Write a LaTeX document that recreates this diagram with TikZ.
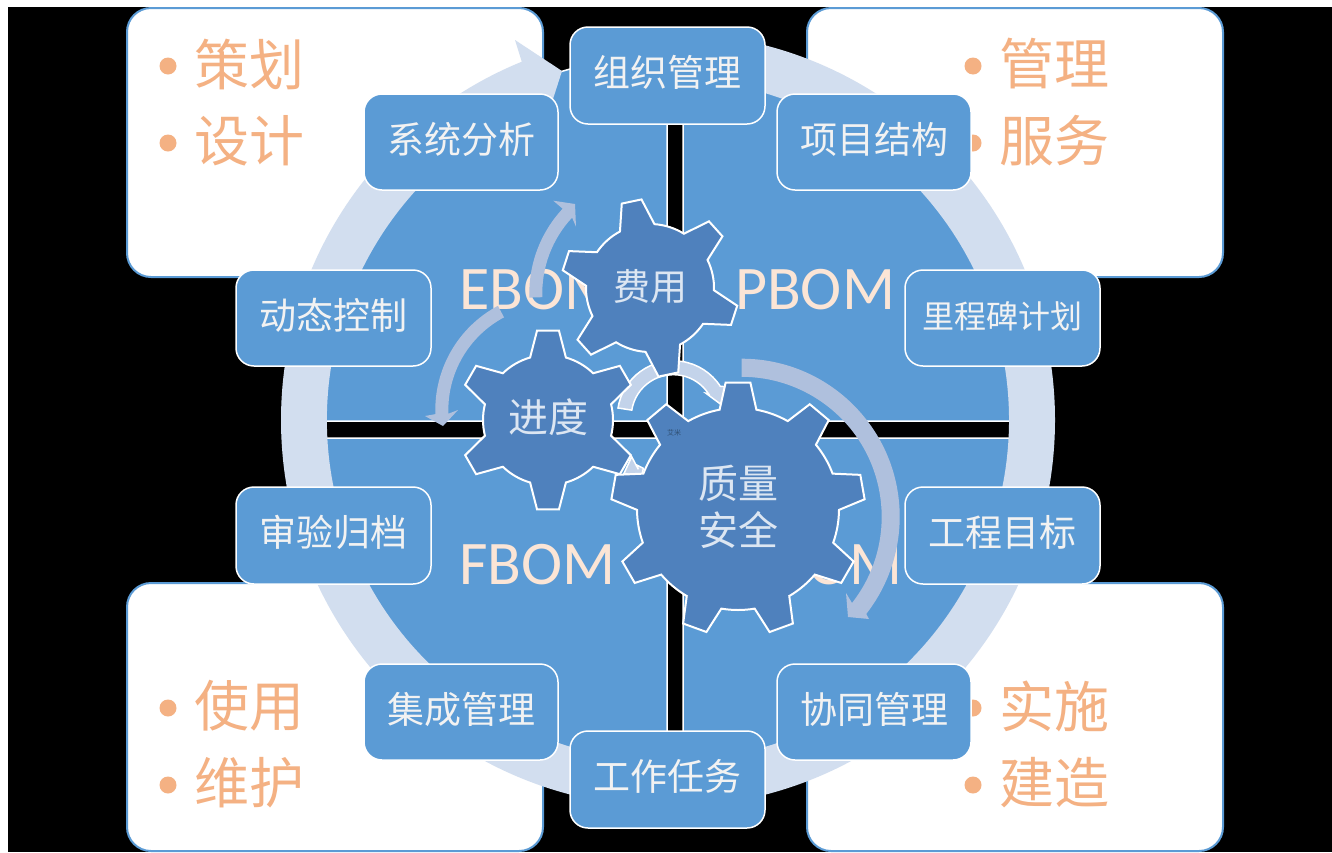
\documentclass[tikz,border=0pt]{standalone}
\usepackage{fontspec}
\setmainfont{Carlito}
\newfontfamily\cjk{Noto Sans CJK SC}
\definecolor{blueq}{HTML}{5B9BD5}
\definecolor{ringc}{HTML}{D2DEEF}
\definecolor{gearc}{HTML}{4F81BD}
\definecolor{arrc}{HTML}{AFC0DD}
\definecolor{arrl}{HTML}{C3D3EA}
\definecolor{peach}{HTML}{F4B183}
\definecolor{bomc}{HTML}{FBE5D6}
\definecolor{geartxt}{HTML}{DCE6F2}
\tikzset{
  panel/.style={draw=blueq,line width=2pt,fill=white,rounded corners=24pt},
  quad/.style={draw=white,line width=1.5pt,fill=blueq},
  boxbg/.style={draw=white,line width=1.5pt,fill=blueq,rounded corners=18pt},
  boxtxt/.style={inner sep=0pt,text=white!95!black,font=\cjk\fontsize{37}{37}\selectfont},
  bullettxt/.style={inner sep=0pt,anchor=west,text=peach,font=\cjk\fontsize{55}{55}\selectfont},
  bomtxt/.style={inner sep=0pt,anchor=west,text=bomc,font=\fontsize{62}{62}\selectfont},
  geartext/.style={inner sep=0pt,text=geartxt,font=\cjk\fontsize{40}{40}\selectfont},
  gearstyle/.style={draw=white,line width=2pt,fill=gearc,line join=miter},
  bigarrow/.style={fill=arrc},
  smallarrow/.style={fill=arrl,draw=white,line width=1.5pt},
}
\newcommand{\gearshape}[8]{%
  \pgfmathtruncatemacro{\nlast}{#5-1}%
  \begin{scope}[shift={(#1,#2)}]
  \draw[gearstyle] ({#6-#7}:#3pt)
    foreach \k [evaluate=\k as \a using #6+\k*360/#5] in {0,...,\nlast}{
      -- ({\a-#8}:#4pt) -- ({\a+#8}:#4pt) -- ({\a+#7}:#3pt)
      arc[start angle={\a+#7},end angle={\a+360/#5-#7},radius=#3pt]
    } -- cycle;
  \end{scope}}
\newcommand{\dotmark}[3]{\node[circle,fill=peach,inner sep=0pt,minimum size=17pt] (#1) at (#2,#3) {};}
\newcommand{\roundbox}[6]{%
  \draw[boxbg] (#2,#3) rectangle (#4,#5);
  \node[boxtxt] (#1) at ({(#2+#4)/2},{(#3+#5)/2-3}) {#6};}
\begin{document}
\begin{tikzpicture}[x=1pt,y=1pt,yscale=-1]
\useasboundingbox (0,0) rectangle (1332,852);
\fill[white] (0,0) rectangle (1332,852);
\fill[black] (8,7) rectangle (1332,852);
% panels
\draw[panel] (127,8) rectangle (543,277);
\draw[panel] (807,8) rectangle (1223,277);
\draw[panel] (127,583) rectangle (543,851);
\draw[panel] (807,583) rectangle (1223,851);
\dotmark{d1}{168}{66}\dotmark{d2}{168}{143}
\dotmark{d3}{973}{66}\dotmark{d4}{973}{143}
\dotmark{d5}{168}{708}\dotmark{d6}{168}{785}
\dotmark{d7}{973}{708}\dotmark{d8}{973}{785}
\node[bullettxt] (t1) at (194,64) {策划};
\node[bullettxt] (t2) at (194,141) {设计};
\node[bullettxt] (t3) at (999,64) {管理};
\node[bullettxt] (t4) at (999,141) {服务};
\node[bullettxt] (t5) at (194,706) {使用};
\node[bullettxt] (t6) at (194,783) {维护};
\node[bullettxt] (t7) at (999,706) {实施};
\node[bullettxt] (t8) at (999,783) {建造};
% quadrants
\draw[quad] (667,421) -- ++(-365,0) arc[start angle=180,end angle=270,radius=365pt] -- cycle;
\draw[quad] (683,421) -- ++(0,-355) arc[start angle=270,end angle=360,radius=355pt] -- cycle;
\draw[quad] (683,438) -- ++(355,0) arc[start angle=0,end angle=90,radius=355pt] -- cycle;
\draw[quad] (667,438) -- ++(-355,0) arc[start angle=180,end angle=90,radius=355pt] -- cycle;
% ring
\fill[ringc] (668,33) arc[start angle=270,end angle=607.8,radius=387pt]
  -- (515,40) -- (562,71) -- (553,99)
  arc[start angle=610.3,end angle=270,radius=341pt] -- cycle;
% boxes
\roundbox{b1}{570}{27}{765}{124}{组织管理}
\roundbox{b2}{364}{94}{558}{190}{系统分析}
\roundbox{b3}{777}{94}{971}{190}{项目结构}
\roundbox{b4}{236}{270}{431}{366}{动态控制}
\draw[boxbg] (905,270) rectangle (1100,366);
\node[boxtxt,font=\cjk\fontsize{32}{32}\selectfont] (b5) at (1002.5,316) {里程碑计划};
\roundbox{b6}{236}{487}{431}{584}{审验归档}
\roundbox{b7}{905}{487}{1100}{584}{工程目标}
\roundbox{b8}{364}{664}{558}{760}{集成管理}
\roundbox{b9}{777}{664}{971}{760}{协同管理}
\roundbox{b10}{570}{731}{765}{828}{工作任务}
% BOM labels
\node[bomtxt] (e) at (459,290) {EBOM};
\node[bomtxt] (p) at (735,290) {PBOM};
\node[bomtxt] (f) at (459,565) {FBOM};
\node[bomtxt,anchor=east] (m) at (903,565) {MBOM};
% arrows
\fill[bigarrow] (529.4,297.6) arc[start angle=178,end angle=223,radius=124pt]
  -- (553.3,200.7) -- (575,204) -- (576,226.7) -- (572.1,217.6)
  arc[start angle=223,end angle=178,radius=111pt] -- cycle;
\fill[bigarrow] (497.9,305.8) arc[start angle=242,end angle=178,radius=118pt]
  -- (425,416) -- (443,426) -- (458,410) -- (448.4,413.7)
  arc[start angle=178,end angle=242,radius=105pt] -- cycle;
\draw[smallarrow] (618,408) arc[start angle=189,end angle=327,radius=56pt]
  -- (725.7,386.7) -- (724,406.7) -- (706,393.3) -- (708.5,393.8)
  arc[start angle=327,end angle=189,radius=42pt] -- cycle;
\draw[smallarrow] (631.7,456.7) -- (624,473.3) -- (641.7,476.7) -- (643.3,468.3) -- (636.7,465) -- (638.3,469.3) -- cycle;
% gears
\gearshape{548}{420}{65}{90}{6}{30}{16}{7}
\gearshape{650}{288}{64}{89}{6}{18}{16}{6.5}
\gearshape{738}{509}{101}{127}{9}{-90}{10.5}{5.6}
\fill[bigarrow] (741.7,358.7) arc[start angle=-90,end angle=38,radius=158pt]
  -- (869,619) -- (848,617) -- (846,593) -- (852,603)
  arc[start angle=38,end angle=-90,radius=140pt] -- cycle;
\node[geartext,font=\cjk\fontsize{37}{37}\selectfont] (g1) at (650,287) {费用};
\node[geartext] (g2) at (548,417) {进度};
\node[geartext] (g3a) at (738,483) {质量};
\node[geartext] (g3b) at (738,530) {安全};
\node[inner sep=0pt,text=gearc!60!black,font=\cjk\fontsize{7}{7}\selectfont] (tiny) at (674,433) {艾米};
\end{tikzpicture}
\end{document}
